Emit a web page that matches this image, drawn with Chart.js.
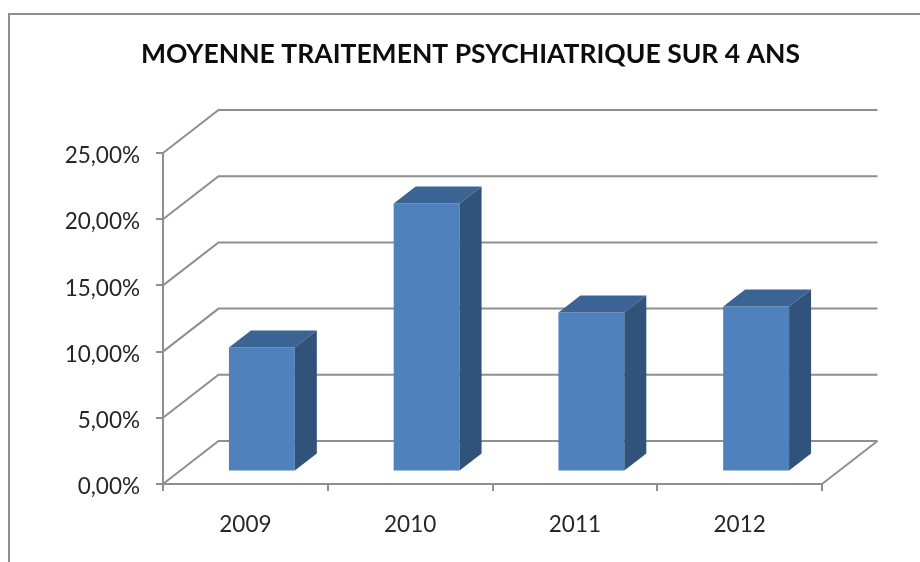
<!DOCTYPE html>
<html>
<head>
<meta charset="utf-8">
<title>Moyenne traitement psychiatrique</title>
<script src="https://cdn.jsdelivr.net/npm/chart.js@4/dist/chart.umd.min.js"></script>
<style>
    html, body { margin: 0; padding: 0; background: #fff; }
    canvas { display: block; filter: blur(0.5px); }
</style>
</head>
<body>
<canvas id="chart_moyenne" width="920" height="562"></canvas>
<script>
var years = ['2009', '2010', '2011', '2012'];
var moyenne = [9.37, 20.24, 12.0, 12.46];
var chartTitle = 'MOYENNE TRAITEMENT PSYCHIATRIQUE SUR 4 ANS';
var axisMin = 0;
var axisMax = 25;
var axisStep = 5;

var lineColor = '#8f8f8f';
var textFont = 'Lato';

// fake perspective, Chart.js has no 3d bars
var wall = { dx: 55.5, dy: -43 };
var barShift = { dx: 16.5, dy: -12.5 };
var barDepth = { dx: 22, dy: -17 };

var polygon = function (ctx, points, color) {
    ctx.beginPath();
    ctx.moveTo(points[0][0], points[0][1]);
    for (let i = 1; i < points.length; i++) {
        ctx.lineTo(points[i][0], points[i][1]);
    }
    ctx.closePath();
    ctx.fillStyle = color;
    ctx.fill();
};

var frame3d = {
    id: 'frame3d',
    beforeDraw: function (chart) {
        let ctx = chart.ctx;
        ctx.save();
        ctx.strokeStyle = lineColor;
        ctx.lineWidth = 2;
        ctx.beginPath();
        ctx.moveTo(9, chart.height);
        ctx.lineTo(9, 14);
        ctx.lineTo(chart.width, 14);
        ctx.stroke();
        ctx.restore();
    },
    beforeDatasetsDraw: function (chart) {
        let ctx = chart.ctx;
        let area = chart.chartArea;
        let yScale = chart.scales.y;
        ctx.save();
        ctx.strokeStyle = lineColor;
        ctx.lineWidth = 2;
        // side and back wall lines, one per tick
        yScale.ticks.forEach(function (tick) {
            let y = yScale.getPixelForValue(tick.value);
            ctx.beginPath();
            ctx.moveTo(area.left, y);
            ctx.lineTo(area.left + wall.dx, y + wall.dy);
            ctx.lineTo(area.right + wall.dx, y + wall.dy);
            ctx.stroke();
        });
        // floor right edge
        ctx.beginPath();
        ctx.moveTo(area.right, area.bottom);
        ctx.lineTo(area.right + wall.dx, area.bottom + wall.dy);
        ctx.stroke();
        ctx.restore();
        // bars stand in the middle of the floor
        ctx.save();
        ctx.translate(barShift.dx, barShift.dy);
    },
    afterDatasetsDraw: function (chart) {
        let ctx = chart.ctx;
        chart.getDatasetMeta(0).data.forEach(function (bar) {
            let left = bar.x - bar.width / 2;
            let right = bar.x + bar.width / 2;
            polygon(ctx, [
                [left, bar.y],
                [left + barDepth.dx, bar.y + barDepth.dy],
                [right + barDepth.dx, bar.y + barDepth.dy],
                [right, bar.y]
            ], '#3b6494');
            polygon(ctx, [
                [right, bar.y],
                [right + barDepth.dx, bar.y + barDepth.dy],
                [right + barDepth.dx, bar.base + barDepth.dy],
                [right, bar.base]
            ], '#31527a');
        });
        ctx.restore();
    }
};

new Chart('chart_moyenne', {
    type: 'bar',
    data: {
        labels: years,
        datasets: [{
            label: 'Moyenne',
            data: moyenne,
            backgroundColor: '#4f81bd',
            categoryPercentage: 1,
            barPercentage: 0.4
        }]
    },
    options: {
        responsive: false,
        animation: false,
        layout: {
            padding: { left: 21 }
        },
        plugins: {
            legend: { display: false },
            tooltip: { enabled: false },
            title: {
                display: true,
                text: chartTitle,
                color: '#0d0d0d',
                font: { family: textFont, size: 26.5, weight: 'bold' },
                padding: { top: 39, bottom: 82.2 }
            }
        },
        scales: {
            x: {
                afterFit: function (scale) { scale.height = 78; },
                grid: { drawOnChartArea: false, color: lineColor, lineWidth: 2, tickLength: 7 },
                border: { color: lineColor, width: 2 },
                ticks: {
                    color: '#262626',
                    padding: 20,
                    maxRotation: 0,
                    font: { family: textFont, size: 22.5 }
                }
            },
            y: {
                min: axisMin,
                max: axisMax,
                afterFit: function (scale) { scale.width = 142; },
                grid: { drawOnChartArea: false, color: lineColor, lineWidth: 2, tickLength: 7 },
                border: { color: lineColor, width: 2 },
                ticks: {
                    stepSize: axisStep,
                    color: '#262626',
                    padding: 16,
                    labelOffset: 3,
                    font: { family: textFont, size: 22.5 },
                    callback: function (value) {
                        return value.toFixed(2).replace('.', ',') + '%';
                    }
                }
            },
            // empty axis, only keeps the plot away from the right edge
            spacer: {
                axis: 'y',
                position: 'right',
                afterFit: function (scale) { scale.width = 98; },
                grid: { display: false },
                border: { display: false },
                ticks: { display: false }
            }
        }
    },
    plugins: [frame3d]
});
</script>
</body>
</html>
